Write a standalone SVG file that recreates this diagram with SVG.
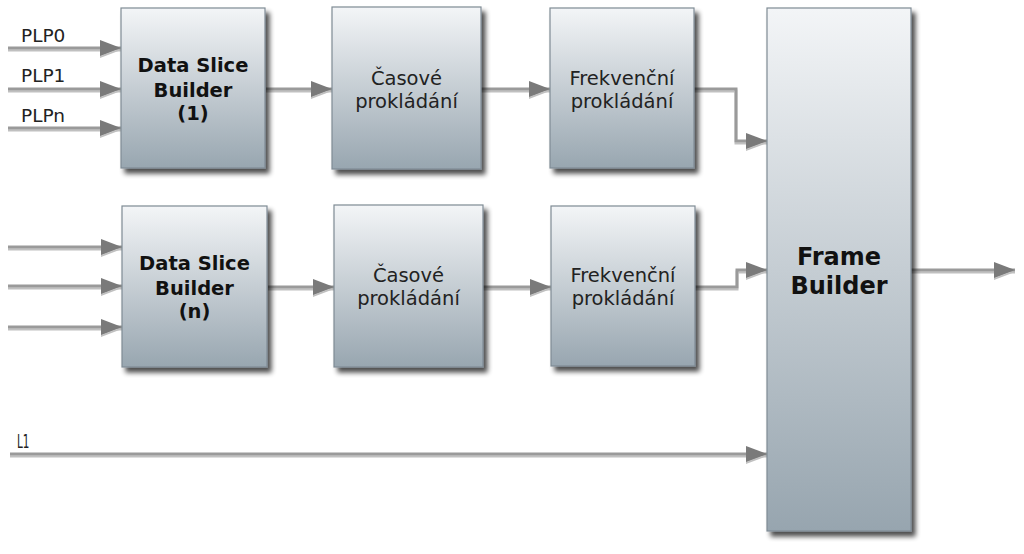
<svg xmlns="http://www.w3.org/2000/svg" width="1024" height="554" viewBox="0 0 1024 554">
<defs>
<linearGradient id="g" x1="0" y1="0" x2="0" y2="1">
<stop offset="0" stop-color="#f3f5f7"/>
<stop offset="1" stop-color="#98a6b0"/>
</linearGradient>
<linearGradient id="gfb" x1="0" y1="0" x2="0" y2="1">
<stop offset="0" stop-color="#f3f5f7"/>
<stop offset="1" stop-color="#97a5af"/>
</linearGradient>
<filter id="sh" x="-10%" y="-10%" width="130%" height="130%">
<feGaussianBlur in="SourceAlpha" stdDeviation="2.5"/>
<feOffset dx="4" dy="5" result="b"/>
<feComponentTransfer><feFuncA type="linear" slope="0.7"/></feComponentTransfer>
<feMerge><feMergeNode/><feMergeNode in="SourceGraphic"/></feMerge>
</filter>
<filter id="lsh" x="-5%" y="-50%" width="110%" height="300%">
<feOffset in="SourceAlpha" dx="0" dy="2" result="o"/>
<feComponentTransfer in="o" result="o2"><feFuncA type="linear" slope="0.25"/></feComponentTransfer>
<feMerge><feMergeNode in="o2"/><feMergeNode in="SourceGraphic"/></feMerge>
</filter>
<marker id="ah" markerWidth="22" markerHeight="18" refX="21" refY="9" orient="auto" markerUnits="userSpaceOnUse">
<path d="M0,1 L21,9 L0,17 Z" fill="#7a7a7a"/>
</marker>
</defs>
<style>
.box{fill:url(#g);stroke:#7f8b94;stroke-width:1.2;filter:url(#sh)}
.c{fill:none;stroke:#9a9a9a;stroke-width:3;marker-end:url(#ah)}
.bt{font-family:"DejaVu Sans",Verdana,sans-serif;font-weight:bold;font-size:19.5px;fill:#111;text-anchor:middle}
.rt{font-family:"DejaVu Sans",Verdana,sans-serif;font-size:19.5px;fill:#222;text-anchor:middle}
.lt{font-family:"DejaVu Sans",Verdana,sans-serif;font-size:18.5px;fill:#222}
</style>
<g id="connectors" filter="url(#lsh)">
<path class="c" d="M8,48 H121"/>
<path class="c" d="M8,89 H121"/>
<path class="c" d="M8,128 H121"/>
<path class="c" d="M266,89 H332"/>
<path class="c" d="M481,89 H550"/>
<path class="c" d="M694,89 H736 V141 H767"/>
<path class="c" d="M8,247 H122"/>
<path class="c" d="M8,286 H122"/>
<path class="c" d="M8,327 H122"/>
<path class="c" d="M268,287 H334"/>
<path class="c" d="M483,287 H551"/>
<path class="c" d="M695,287 H737 V270 H767"/>
<path class="c" d="M911,270 H1015"/>
<path class="c" d="M10,454 H767"/>
</g>
<g id="labels">
<text class="lt" x="21" y="42">PLP0</text>
<text class="lt" x="21" y="82">PLP1</text>
<text class="lt" x="21" y="122">PLPn</text>
<text class="lt" x="0" y="0" transform="translate(17,448) scale(0.52,1)" style="font-size:20px">L1</text>
</g>
<g id="dsb1">
<rect class="box" x="121" y="8" width="144" height="160"/>
<text class="bt" x="193" y="72">Data Slice</text>
<text class="bt" x="193" y="97">Builder</text>
<text class="bt" x="193" y="120">(1)</text>
</g>
<g id="cas1">
<rect class="box" x="332" y="7" width="149" height="162"/>
<text class="rt" x="406.5" y="85">Časové</text>
<text class="rt" x="406.5" y="108">prokládání</text>
</g>
<g id="frek1">
<rect class="box" x="550" y="8" width="144" height="160"/>
<text class="rt" x="622" y="85">Frekvenční</text>
<text class="rt" x="622" y="108">prokládání</text>
</g>
<g id="dsbn">
<rect class="box" x="122" y="206" width="145" height="161"/>
<text class="bt" x="194.5" y="270">Data Slice</text>
<text class="bt" x="194.5" y="295">Builder</text>
<text class="bt" x="194.5" y="318">(n)</text>
</g>
<g id="cas2">
<rect class="box" x="334" y="205" width="149" height="162"/>
<text class="rt" x="408.5" y="282">Časové</text>
<text class="rt" x="408.5" y="305">prokládání</text>
</g>
<g id="frek2">
<rect class="box" x="551" y="206" width="144" height="160"/>
<text class="rt" x="623" y="282">Frekvenční</text>
<text class="rt" x="623" y="305">prokládání</text>
</g>
<g id="frame">
<rect class="box" x="767" y="8" width="144" height="523" style="fill:url(#gfb)"/>
<text class="bt" x="839" y="265" style="font-size:24px">Frame</text>
<text class="bt" x="839" y="294" style="font-size:24px">Builder</text>
</g>
</svg>
